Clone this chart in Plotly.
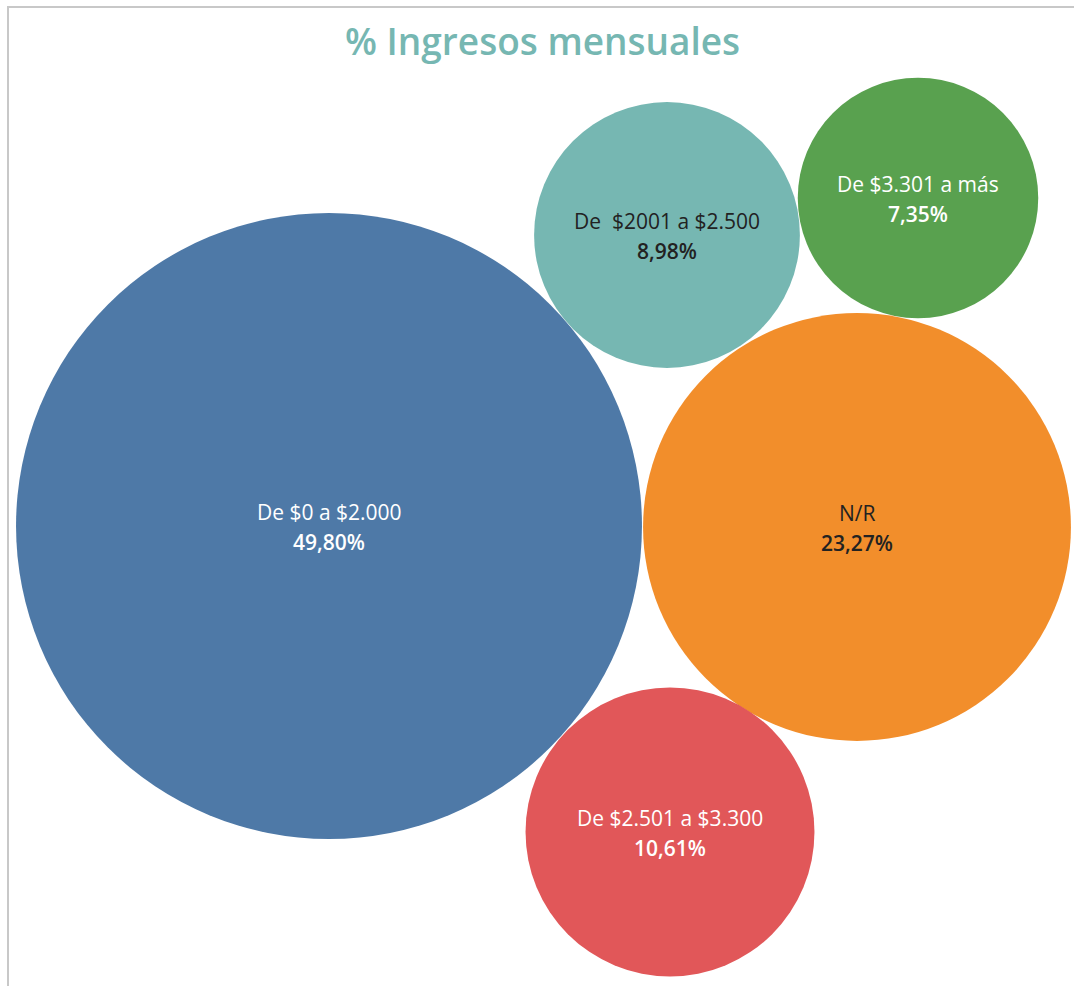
import numpy as np
import plotly.graph_objects as go

# Data
categories = ["De $0 a $2.000", "De  $2001 a $2.500", "De $3.301 a más", "N/R", "De $2.501 a $3.300"]
values = [49.80, 8.98, 7.35, 23.27, 10.61]
value_labels = ["49,80%", "8,98%", "7,35%", "23,27%", "10,61%"]

# Layout (bubble packing positions, in pixel-like plot units)
cx = [329, 667, 918, 857, 670]
cy = [526, 235, 198, 527, 832]
colors = ["#4e79a7", "#76b7b2", "#59a14f", "#f28e2b", "#e15759"]
text_colors = ["white", "#222222", "white", "#222222", "white"]

scale = 44.35  # px radius per sqrt(value)
diam = [2 * scale * np.sqrt(v) for v in values]

fig = go.Figure()
fig.add_trace(go.Scatter(
    x=cx, y=cy, mode="markers",
    marker=dict(size=diam, sizemode="diameter", color=colors, opacity=1, line=dict(width=0)),
    hovertext=[f"{c}<br>{l}" for c, l in zip(categories, value_labels)],
    hoverinfo="text", showlegend=False,
))

annotations = []
for c, l, x, y, tc in zip(categories, value_labels, cx, cy, text_colors):
    annotations.append(dict(x=x, y=y, text=c, showarrow=False, yshift=14,
                            font=dict(family="Open Sans", size=21, color=tc)))
    annotations.append(dict(x=x, y=y, text=l, showarrow=False, yshift=-16,
                            font=dict(family="Open Sans", size=21, color=tc, weight=600)))

annotations.append(dict(x=542, y=40, text="% Ingresos mensuales", showarrow=False,
                        font=dict(family="Open Sans", size=37, color="#76b7b2", weight=600)))

fig.update_layout(
    width=1074, height=986,
    margin=dict(l=0, r=0, t=0, b=0),
    paper_bgcolor="white", plot_bgcolor="white",
    xaxis=dict(range=[0, 1074], visible=False, fixedrange=True),
    yaxis=dict(range=[986, 0], visible=False, fixedrange=True),
    annotations=annotations,
    shapes=[
        dict(type="line", xref="x", yref="y", x0=7, x1=1074, y0=7, y1=7,
             line=dict(color="#c8c8c8", width=2)),
        dict(type="line", xref="x", yref="y", x0=8, x1=8, y0=7, y1=986,
             line=dict(color="#c8c8c8", width=2)),
    ],
)

fig.write_html("out.html")
